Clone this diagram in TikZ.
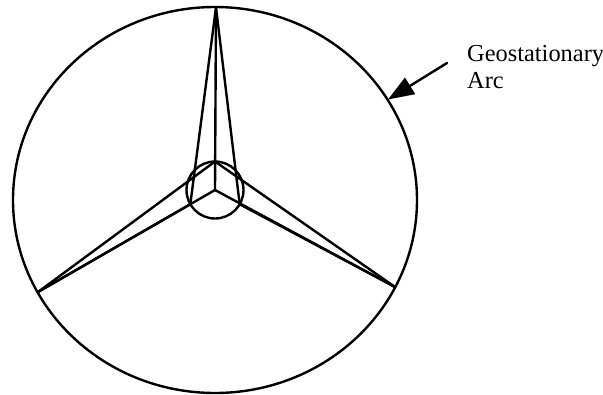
\documentclass[tikz,border=0pt]{standalone}
\usepackage{fontspec}
\setmainfont{Liberation Serif}
\usetikzlibrary{arrows.meta,calc}
\begin{document}
\begin{tikzpicture}[x=1pt,y=-1pt,line width=2.4pt,line join=round,line cap=round,
  lbl/.style={anchor=base west,inner sep=0pt,font=\fontsize{24.4}{27}\selectfont}]
\useasboundingbox (0,0) rectangle (603,394);
% geostationary arc
\draw (215,200) ellipse [x radius=202, y radius=193];
% satellites
\coordinate (sT) at (216,7.5);
\coordinate (sL) at (38,292);
\coordinate (sR) at (395,287);
% earth
\coordinate (E) at (215,190);
\draw (E) circle [radius=28.5];
\coordinate (pL) at ($(E)+(150:28.5)$);
\coordinate (pR) at ($(E)+(30:28.5)$);
\coordinate (pB) at ($(E)+(270:28.5)$);
\draw (sT) -- (E);
\draw (sT) -- (pL);
\draw (sT) -- (pR);
\draw (sL) -- (E);
\draw (sL) -- (pL);
\draw (sL) -- (pB);
\draw (sR) -- (E);
\draw (sR) -- (pR);
\draw (sR) -- (pB);
% label
\node[lbl] (t1) at (466,61) {Geostationary};
\node[lbl] (t2) at (466,88) {Arc};
\coordinate (aT) at (447,63);
\coordinate (aH) at (388,99.5);
\draw[-{Triangle[length=26pt,width=19pt]}] (aT) -- (aH);
\end{tikzpicture}
\end{document}
